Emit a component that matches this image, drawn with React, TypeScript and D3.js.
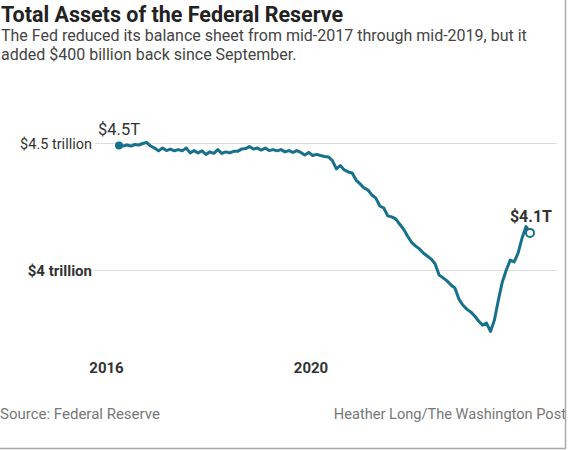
import React from "react";
import * as d3 from "d3";

// biweekly totals, trillions of dollars, Jan 2016 -> end of 2019
const assets: number[] = [
  4.492, 4.49, 4.494, 4.49, 4.496, 4.494, 4.5, 4.504, 4.49, 4.482,
  4.471, 4.482, 4.472, 4.478, 4.471, 4.476, 4.471, 4.482, 4.463, 4.472,
  4.463, 4.471, 4.457, 4.467, 4.461, 4.476, 4.461, 4.467, 4.463, 4.469,
  4.469, 4.478, 4.48, 4.488, 4.478, 4.482, 4.474, 4.482, 4.472, 4.476,
  4.471, 4.476, 4.467, 4.472, 4.465, 4.472, 4.465, 4.455, 4.465, 4.453,
  4.457, 4.453, 4.449, 4.447, 4.433, 4.4, 4.413, 4.396, 4.388, 4.384,
  4.356, 4.341, 4.325, 4.317, 4.297, 4.285, 4.254, 4.246, 4.215, 4.211,
  4.203, 4.183, 4.163, 4.136, 4.112, 4.097, 4.085, 4.069, 4.057, 4.045,
  4.026, 3.982, 3.971, 3.959, 3.943, 3.931, 3.888, 3.864, 3.848, 3.837,
  3.821, 3.801, 3.785, 3.793, 3.76, 3.805, 3.884, 3.955, 4.002, 4.041,
  4.034, 4.069, 4.128, 4.173, 4.148,
];
const startDate = new Date(2016, 0, 6);
const dates: Date[] = assets.map((_, i) => d3.timeDay.offset(startDate, i * 14));

const yTicks = [4.5, 4];
const yTickLabels = ["$4.5 trillion", "$4 trillion"];
const xTickYears = [2016, 2020];
const xTickLabels = ["2016", "2020"];

const FONT = "Roboto, 'Noto Sans', sans-serif";
const TEAL = "#17718c";

export default function App() {
  const width = 568;
  const height = 450;

  const x = d3
    .scaleTime()
    .domain([dates[0], dates[dates.length - 1]])
    .range([119, 530]);
  const y = d3.scaleLinear().domain([4, 4.5]).range([270.5, 143.5]);
  const xAxisPos = d3.scaleLinear().domain([2016, 2020]).range([106.5, 311]);

  const line = d3
    .line<number>()
    .x((_, i) => x(dates[i]))
    .y((d) => y(d));

  const last = assets.length - 1;

  return (
    <svg
      width={width}
      height={height}
      style={{ position: "absolute", left: 0, top: 0, background: "#fff" }}
      fontFamily={FONT}
    >
      <text x={1} y={22} fontSize={21.5} fontWeight="bold" fill="#222">
        Total Assets of the Federal Reserve
      </text>
      <text x={1} y={41} fontSize={16} fill="#444">
        The Fed reduced its balance sheet from mid-2017 through mid-2019, but it
      </text>
      <text x={1} y={59.5} fontSize={16} fill="#444">
        added $400 billion back since September.
      </text>

      {yTicks.map((t, i) => (
        <g key={t}>
          <line x1={95} x2={557} y1={y(t)} y2={y(t)} stroke="#dcdcdc" strokeWidth={1.2} />
          <text
            x={92}
            y={y(t) + 5}
            textAnchor="end"
            fontSize={i === 0 ? 14.5 : 15}
            fontWeight={i === 0 ? "normal" : "bold"}
            fill="#333"
          >
            {yTickLabels[i]}
          </text>
        </g>
      ))}

      {xTickYears.map((yr, i) => (
        <text
          key={yr}
          x={xAxisPos(yr)}
          y={373}
          textAnchor="middle"
          fontSize={15}
          fontWeight="bold"
          fill="#333"
        >
          {xTickLabels[i]}
        </text>
      ))}

      <path
        d={line(assets) ?? ""}
        fill="none"
        stroke={TEAL}
        strokeWidth={3}
        strokeLinejoin="round"
        strokeLinecap="round"
      />
      <circle cx={x(dates[0])} cy={y(assets[0])} r={4} fill={TEAL} />
      <circle
        cx={x(dates[last])}
        cy={y(assets[last])}
        r={4}
        fill="#fff"
        stroke={TEAL}
        strokeWidth={2}
      />

      <text x={x(dates[0]) - 21} y={135} fontSize={16.5} fill="#333">
        $4.5T
      </text>
      <text x={x(dates[last]) + 22} y={222} textAnchor="end" fontSize={16} fontWeight="bold" fill="#333">
        $4.1T
      </text>

      <text x={0} y={419} fontSize={15} fill="#777">
        Source: Federal Reserve
      </text>
      <text x={566} y={419} textAnchor="end" fontSize={14.6} fill="#777">
        Heather Long/The Washington Post
      </text>

      <line x1={565.5} x2={565.5} y1={0} y2={449} stroke="#aaa" strokeWidth={1.5} />
      <line x1={0} x2={566} y1={448.5} y2={448.5} stroke="#aaa" strokeWidth={1.5} />
    </svg>
  );
}
